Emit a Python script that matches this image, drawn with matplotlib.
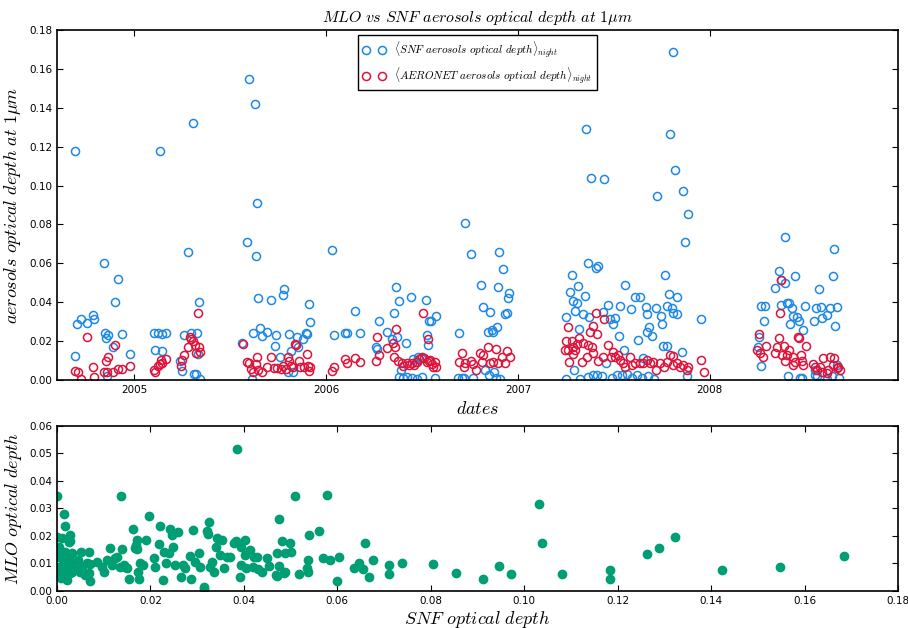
import datetime as dt

import matplotlib
matplotlib.use("Agg")
import matplotlib.pyplot as plt
import matplotlib.dates as mdates

# night means, dates as decimal years
snf_years = [
    2004.693, 2004.693, 2004.703, 2004.724, 2004.755, 2004.786, 2004.792, 2004.844, 2004.849, 2004.854,
    2004.865, 2004.859, 2004.891, 2004.901, 2004.917, 2004.938, 2004.979,
    2005.104, 2005.125, 2005.135, 2005.146, 2005.167, 2005.109, 2005.146, 2005.240, 2005.250, 2005.260,
    2005.281, 2005.297, 2005.307, 2005.328, 2005.339, 2005.313, 2005.323, 2005.341, 2005.333,
    2005.599, 2005.630, 2005.641, 2005.589, 2005.635, 2005.643, 2005.563, 2005.620, 2005.656, 2005.667,
    2005.693, 2005.714, 2005.740, 2005.734, 2005.760, 2005.776, 2005.781, 2005.615, 2005.807, 2005.828,
    2005.802, 2005.818, 2005.849, 2005.880, 2005.896, 2005.911, 2005.917, 2005.854, 2005.901,
    2006.031, 2006.042, 2006.099, 2006.109, 2006.151, 2006.177,
    2006.276, 2006.260, 2006.266, 2006.318, 2006.354, 2006.365, 2006.380, 2006.367, 2006.344, 2006.417,
    2006.443, 2006.521, 2006.536, 2006.547, 2006.573, 2006.526, 2006.531, 2006.391, 2006.382, 2006.401,
    2006.422, 2006.448, 2006.474, 2006.500, 2006.568, 2006.453, 2006.479, 2006.495, 2006.469,
    2006.724, 2006.755, 2006.901, 2006.922, 2006.807, 2006.896, 2006.953, 2006.948, 2006.818, 2006.854,
    2006.932, 2006.943, 2006.693, 2006.891, 2006.865, 2006.844, 2006.870, 2006.828, 2006.688, 2006.708,
    2006.719, 2006.766, 2006.846, 2006.872, 2006.885, 2006.906,
    2007.807, 2007.354, 2007.792, 2007.380, 2007.448, 2007.818, 2007.859, 2007.724, 2007.885, 2007.870,
    2007.365, 2007.406, 2007.417, 2007.281, 2007.271, 2007.313, 2007.286, 2007.307, 2007.297, 2007.339,
    2007.349, 2007.250, 2007.370, 2007.443, 2007.469, 2007.479, 2007.505, 2007.495, 2007.531, 2007.557,
    2007.589, 2007.609, 2007.635, 2007.667, 2007.672, 2007.719, 2007.745, 2007.750, 2007.766, 2007.786,
    2007.776, 2007.802, 2007.809, 2007.828, 2007.830, 2007.526, 2007.625, 2007.682, 2007.674, 2007.698,
    2007.755, 2007.778, 2007.552, 2007.854, 2007.318, 2007.953, 2007.292, 2007.458, 2007.651,
    2007.252, 2007.323, 2007.367, 2007.391, 2007.411, 2007.438, 2007.490, 2007.516, 2007.542, 2007.568,
    2007.594, 2007.620, 2007.646, 2007.677, 2007.708, 2007.880,
    2008.391, 2008.359, 2008.370, 2008.393, 2008.443, 2008.339, 2008.568, 2008.646, 2008.641, 2008.266,
    2008.286, 2008.372, 2008.401, 2008.411, 2008.427, 2008.495, 2008.552, 2008.578, 2008.661, 2008.625,
    2008.432, 2008.453, 2008.464, 2008.417, 2008.609, 2008.583, 2008.484, 2008.542, 2008.651, 2008.281,
    2008.255, 2008.250, 2008.268, 2008.406, 2008.547, 2008.663, 2008.469, 2008.479, 2008.549, 2008.557,
    2008.611, 2008.635, 2008.672,
]
snf_aod = [
    0.118, 0.0123, 0.0288, 0.0314, 0.0293, 0.0334, 0.0314, 0.060, 0.0242, 0.0216,
    0.0231, 0.002, 0.017, 0.040, 0.052, 0.0236, 0.0134,
    0.0242, 0.0242, 0.118, 0.0236, 0.024, 0.0154, 0.015, 0.0098, 0.0046, 0.023,
    0.066, 0.024, 0.132, 0.024, 0.040, 0.003, 0.003, 0.0003, 0.0134,
    0.155, 0.142, 0.091, 0.071, 0.0637, 0.042, 0.019, 0.024, 0.0267, 0.0226,
    0.0247, 0.041, 0.023, 0.0175, 0.0118, 0.0437, 0.0468, 0.0005, 0.0236, 0.004,
    0.004, 0.015, 0.022, 0.021, 0.024, 0.039, 0.030, 0.017, 0.0236,
    0.0668, 0.0231, 0.024, 0.024, 0.0355, 0.024,
    0.0303, 0.017, 0.016, 0.0247, 0.0344, 0.0478, 0.0406, 0.022, 0.021, 0.019,
    0.0427, 0.0411, 0.0303, 0.0303, 0.0329, 0.0231, 0.018, 0.005, 0.0015, 0.001,
    0.0015, 0.001, 0.0005, 0.0015, 0.001, 0.011, 0.0118, 0.0113, 0.009,
    0.0807, 0.0648, 0.0658, 0.057, 0.0488, 0.0478, 0.0447, 0.0422, 0.0375, 0.035,
    0.034, 0.0344, 0.024, 0.0272, 0.0257, 0.0247, 0.0247, 0.0051, 0.001, 0.001,
    0.0008, 0.001, 0.0025, 0.004, 0.001, 0.0005,
    0.1686, 0.129, 0.1264, 0.1038, 0.1033, 0.108, 0.097, 0.0946, 0.0853, 0.071,
    0.060, 0.0575, 0.0586, 0.054, 0.0452, 0.0483, 0.0406, 0.0396, 0.0355, 0.034,
    0.0432, 0.0324, 0.0324, 0.035, 0.0386, 0.0314, 0.0319, 0.0288, 0.038, 0.0488,
    0.0365, 0.0427, 0.0427, 0.0375, 0.034, 0.037, 0.0329, 0.0288, 0.054, 0.0442,
    0.038, 0.037, 0.0344, 0.034, 0.0427, 0.0226, 0.0206, 0.0272, 0.0247, 0.0226,
    0.0175, 0.0175, 0.0154, 0.0144, 0.0262, 0.0314, 0.0051, 0.0087, 0.0113,
    0.0005, 0.0005, 0.0015, 0.0025, 0.0025, 0.002, 0.001, 0.0025, 0.0025, 0.003,
    0.001, 0.0025, 0.001, 0.002, 0.0005, 0.002,
    0.0735, 0.056, 0.0514, 0.0498, 0.0535, 0.0473, 0.0468, 0.0673, 0.0535, 0.038,
    0.038, 0.0386, 0.0396, 0.0396, 0.037, 0.038, 0.037, 0.0375, 0.0375, 0.037,
    0.0329, 0.0324, 0.0303, 0.0288, 0.0334, 0.0319, 0.0257, 0.0303, 0.0278, 0.0303,
    0.0221, 0.017, 0.0072, 0.002, 0.0051, 0.0077, 0.001, 0.001, 0.0025, 0.002,
    0.0005, 0.002, 0.001,
]

aeronet_years = [
    2004.693, 2004.708, 2004.724, 2004.755, 2004.786, 2004.792, 2004.844, 2004.859, 2004.854, 2004.865,
    2004.901, 2004.891, 2004.917, 2004.938, 2004.979,
    2005.104, 2005.109, 2005.125, 2005.135, 2005.141, 2005.146, 2005.167, 2005.245, 2005.250, 2005.260,
    2005.281, 2005.292, 2005.297, 2005.307, 2005.318, 2005.323, 2005.333, 2005.339, 2005.341,
    2005.568, 2005.589, 2005.599, 2005.609, 2005.620, 2005.641, 2005.635, 2005.643, 2005.667, 2005.693,
    2005.714, 2005.729, 2005.745, 2005.766, 2005.776, 2005.792, 2005.802, 2005.807, 2005.818, 2005.839,
    2005.844, 2005.828, 2005.859, 2005.865, 2005.885, 2005.901, 2005.906, 2005.917, 2005.911,
    2006.031, 2006.042, 2006.099, 2006.109, 2006.151, 2006.177,
    2006.266, 2006.276, 2006.260, 2006.318, 2006.349, 2006.365, 2006.359, 2006.351, 2006.375, 2006.396,
    2006.401, 2006.422, 2006.432, 2006.448, 2006.458, 2006.474, 2006.484, 2006.500, 2006.510, 2006.526,
    2006.536, 2006.552, 2006.557, 2006.505, 2006.528, 2006.542, 2006.568, 2006.573,
    2006.708, 2006.693, 2006.724, 2006.719, 2006.755, 2006.766, 2006.781, 2006.802, 2006.818, 2006.813,
    2006.844, 2006.854, 2006.870, 2006.885, 2006.896, 2006.917, 2006.932, 2006.943, 2006.958,
    2007.406, 2007.448, 2007.260, 2007.391, 2007.375, 2007.411, 2007.250, 2007.281, 2007.318, 2007.307,
    2007.262, 2007.245, 2007.286, 2007.339, 2007.365, 2007.385, 2007.288, 2007.297, 2007.266, 2007.333,
    2007.359, 2007.393, 2007.417, 2007.443, 2007.469, 2007.484, 2007.495, 2007.505, 2007.521, 2007.531,
    2007.547, 2007.557, 2007.583, 2007.594, 2007.609, 2007.635, 2007.651, 2007.672, 2007.688, 2007.703,
    2007.719, 2007.740, 2007.760, 2007.776, 2007.792, 2007.807, 2007.809, 2007.828, 2007.844, 2007.859,
    2007.880, 2007.885, 2007.953, 2007.969,
    2008.370, 2008.365, 2008.255, 2008.458, 2008.464, 2008.359, 2008.245, 2008.292, 2008.260, 2008.276,
    2008.339, 2008.349, 2008.385, 2008.411, 2008.375, 2008.401, 2008.432, 2008.391, 2008.443, 2008.474,
    2008.500, 2008.479, 2008.434, 2008.484, 2008.536, 2008.547, 2008.557, 2008.573, 2008.589, 2008.583,
    2008.609, 2008.615, 2008.625, 2008.646, 2008.641, 2008.661, 2008.677, 2008.667,
]
aeronet_aod = [
    0.0046, 0.004, 0.0005, 0.022, 0.0067, 0.0015, 0.004, 0.004, 0.0098, 0.0118,
    0.018, 0.004, 0.0057, 0.0057, 0.0072,
    0.0051, 0.004, 0.0072, 0.0082, 0.0103, 0.0087, 0.0108, 0.0072, 0.0103, 0.0128,
    0.017, 0.022, 0.021, 0.020, 0.018, 0.0139, 0.0344, 0.017, 0.0144,
    0.0185, 0.0093, 0.0087, 0.0057, 0.004, 0.0118, 0.0082, 0.0051, 0.004, 0.0067,
    0.0118, 0.0062, 0.0062, 0.0057, 0.0072, 0.0057, 0.0118, 0.0098, 0.0072, 0.0185,
    0.018, 0.0067, 0.0098, 0.0067, 0.0067, 0.0134, 0.0072, 0.0067, 0.0046,
    0.0046, 0.0067, 0.0108, 0.0087, 0.0113, 0.0093,
    0.022, 0.0128, 0.0098, 0.0164, 0.019, 0.026, 0.017, 0.0118, 0.0098, 0.0087,
    0.0072, 0.0087, 0.0077, 0.0087, 0.0077, 0.0093, 0.0108, 0.0118, 0.0113, 0.0093,
    0.0098, 0.0082, 0.0067, 0.0344, 0.021, 0.0103, 0.0093, 0.0067,
    0.0139, 0.0093, 0.0087, 0.0067, 0.0098, 0.0082, 0.0051, 0.0139, 0.0128, 0.0093,
    0.017, 0.0087, 0.0093, 0.016, 0.0087, 0.0118, 0.0087, 0.015, 0.0118,
    0.0344, 0.0314, 0.0272, 0.0278, 0.0247, 0.0236, 0.020, 0.020, 0.0216, 0.0185,
    0.0154, 0.0154, 0.017, 0.019, 0.018, 0.017, 0.0134, 0.0154, 0.0093, 0.0093,
    0.0118, 0.0139, 0.0098, 0.0118, 0.018, 0.0118, 0.0144, 0.0118, 0.0128, 0.0103,
    0.0087, 0.0067, 0.0118, 0.0077, 0.0087, 0.0087, 0.0087, 0.0103, 0.0087, 0.0093,
    0.0051, 0.0087, 0.0067, 0.0093, 0.0128, 0.0123, 0.0077, 0.0087, 0.0067, 0.0077,
    0.0051, 0.0067, 0.0103, 0.004,
    0.0514, 0.0344, 0.0236, 0.0221, 0.0216, 0.0216, 0.0154, 0.0175, 0.0139, 0.0118,
    0.0139, 0.017, 0.0175, 0.0154, 0.0128, 0.0128, 0.0118, 0.0098, 0.0093, 0.0128,
    0.0175, 0.0098, 0.0077, 0.0077, 0.0082, 0.0067, 0.0051, 0.0067, 0.0113, 0.004,
    0.0036, 0.0051, 0.0118, 0.0113, 0.0077, 0.0062, 0.0051, 0.0067,
]

# matched nights: SNF vs MLO
snf_matched = [
    0.0385, 0.0, 0.0137, 0.0509, 0.0578, 0.0015, 0.0197, 0.0325, 0.0475, 0.0017,
    0.022, 0.0163, 0.0242, 0.0259, 0.0291, 0.0321, 0.0323, 0.056, 0.054, 0.0028,
    0.001, 0.0028, 0.0171, 0.019, 0.0218, 0.0342, 0.0353, 0.0383, 0.0402, 0.0482,
    0.0499, 0.0659, 0.0169, 0.0171, 0.0113, 0.0139, 0.0248, 0.034, 0.0394, 0.0471,
    0.0488, 0.05, 0.0051, 0.0068, 0.057, 0.0584, 0.0603, 0.0537, 0.0676, 0.0646,
    0.0636, 0.0655, 0.0668, 0.071, 0.071, 0.0738, 0.0805, 0.0854, 0.06, 0.0518,
    0.0535, 0.0537, 0.0488, 0.0475, 0.0469, 0.0471, 0.0315, 0.0315, 0.0911, 0.0946,
    0.0972, 0.1032, 0.1038, 0.1081, 0.1184, 0.1184, 0.1263, 0.1289, 0.1323, 0.1423,
    0.1548, 0.1684,
    0.0, 0.0026, 0.0004, 0.0006, 0.0017, 0.0, 0.0013, 0.0021, 0.0006, 0.0015,
    0.0026, 0.0004, 0.0015, 0.0028, 0.0021, 0.0009, 0.0032, 0.003, 0.0034, 0.0032,
    0.0045, 0.0054, 0.0049, 0.0064, 0.007, 0.0068, 0.007, 0.006, 0.0086, 0.0096,
    0.0101, 0.0107, 0.0118, 0.0124, 0.0128, 0.0135, 0.0143, 0.0146, 0.015, 0.0154,
    0.0167, 0.0173, 0.0175, 0.0178, 0.0184, 0.0208, 0.021, 0.0227, 0.0229, 0.0233,
    0.024, 0.0246, 0.0252, 0.0265, 0.0269, 0.0274, 0.0285, 0.0287, 0.0295, 0.0304,
    0.0306, 0.0327, 0.0332, 0.0336, 0.0349, 0.0357, 0.0364, 0.037, 0.0379, 0.0392,
    0.0394, 0.0402, 0.0405, 0.0413, 0.0421, 0.0428, 0.043, 0.0439, 0.0449, 0.0454,
    0.042, 0.0486,
]
mlo_matched = [
    0.0516, 0.0345, 0.0345, 0.0345, 0.0349, 0.028, 0.0273, 0.0251, 0.0262, 0.0237,
    0.0237, 0.0225, 0.0225, 0.0215, 0.0222, 0.0218, 0.0207, 0.0218, 0.0204, 0.0204,
    0.0193, 0.0182, 0.0186, 0.0186, 0.0171, 0.0193, 0.0186, 0.0182, 0.0186, 0.0182,
    0.0175, 0.0175, 0.0167, 0.0153, 0.0157, 0.0153, 0.016, 0.016, 0.016, 0.0138,
    0.0138, 0.0142, 0.0142, 0.0142, 0.012, 0.0113, 0.0124, 0.0113, 0.0113, 0.0102,
    0.0084, 0.008, 0.0051, 0.0095, 0.0062, 0.0102, 0.0098, 0.0066, 0.0036, 0.0062,
    0.0084, 0.0069, 0.0069, 0.0091, 0.0058, 0.0055, 0.0015, 0.0007, 0.0044, 0.0091,
    0.0062, 0.0316, 0.0175, 0.0062, 0.0076, 0.0044, 0.0135, 0.0157, 0.0196, 0.0076,
    0.0087, 0.0127,
    0.0197, 0.0178, 0.016, 0.0138, 0.0142, 0.0124, 0.0113, 0.012, 0.0087, 0.0087,
    0.0084, 0.0066, 0.0058, 0.0066, 0.004, 0.0047, 0.0138, 0.0106, 0.0087, 0.0069,
    0.0113, 0.0087, 0.0069, 0.0102, 0.0098, 0.0066, 0.0036, 0.0058, 0.0106, 0.0087,
    0.0069, 0.0113, 0.0095, 0.012, 0.0124, 0.0087, 0.0095, 0.0087, 0.0084, 0.0044,
    0.0157, 0.0069, 0.0044, 0.0102, 0.0095, 0.012, 0.0087, 0.004, 0.0142, 0.0102,
    0.0138, 0.0204, 0.0095, 0.0051, 0.0095, 0.0084, 0.0127, 0.0044, 0.0106, 0.0138,
    0.0087, 0.0087, 0.0106, 0.0069, 0.0131, 0.0084, 0.0124, 0.0124, 0.0175, 0.0051,
    0.0095, 0.0131, 0.0084, 0.0149, 0.0124, 0.0124, 0.008, 0.0069, 0.012, 0.0091,
    0.0087, 0.0066,
]


def to_dates(years):
    return [dt.datetime(int(y), 1, 1) + dt.timedelta(days=(y - int(y)) * 365.25) for y in years]


params = {
    "mathtext.fontset": "cm",
    "xtick.direction": "in",
    "ytick.direction": "in",
    "xtick.top": True,
    "ytick.right": True,
    "xtick.major.size": 4,
    "ytick.major.size": 4,
    "xtick.labelsize": 7.5,
    "ytick.labelsize": 7.5,
    "axes.linewidth": 1.2,
}
plt.rcParams.update(params)

fig = plt.figure(figsize=(9.08, 6.28), dpi=100)

# top: time series
ax1 = fig.add_axes([0.0628, 0.395, 0.9262, 0.557])
ax1.plot(to_dates(snf_years), snf_aod, "o", mfc="none", mec="#1E88E5", mew=1.1, ms=5.8,
         label=r"$\langle SNF\ aerosols\ optical\ depth\rangle_{night}$")
ax1.plot(to_dates(aeronet_years), aeronet_aod, "o", mfc="none", mec="#DC143C", mew=1.1, ms=5.8,
         label=r"$\langle AERONET\ aerosols\ optical\ depth\rangle_{night}$")
ax1.set_xlim(dt.datetime(2004, 8, 7), dt.datetime(2008, 12, 24))
ax1.set_ylim(0, 0.18)
ax1.set_yticks([0.00, 0.02, 0.04, 0.06, 0.08, 0.10, 0.12, 0.14, 0.16, 0.18])
ax1.xaxis.set_major_locator(mdates.YearLocator())
ax1.xaxis.set_major_formatter(mdates.DateFormatter("%Y"))
ax1.set_title(r"$MLO\ vs\ SNF\ aerosols\ optical\ depth\ at\ 1\mu m$", fontsize=11.5)
ax1.set_xlabel(r"$dates$", fontsize=13)
ax1.set_ylabel(r"$aerosols\ optical\ depth\ at\ 1\mu m$", fontsize=13)
ax1.legend(loc="upper center", numpoints=2, fontsize=8, fancybox=False,
           edgecolor="black", framealpha=1, borderaxespad=0.4)

# bottom: scatter SNF vs MLO
ax2 = fig.add_axes([0.0628, 0.059, 0.9262, 0.263])
ax2.plot(snf_matched, mlo_matched, "o", color="#009E73", mec="#009E73", ms=6)
ax2.set_xlim(0, 0.18)
ax2.set_ylim(0, 0.06)
ax2.set_xticks([0.00, 0.02, 0.04, 0.06, 0.08, 0.10, 0.12, 0.14, 0.16, 0.18])
ax2.set_yticks([0.00, 0.01, 0.02, 0.03, 0.04, 0.05, 0.06])
ax2.set_xlabel(r"$SNF\ optical\ depth$", fontsize=13, labelpad=2)
ax2.set_ylabel(r"$MLO\ optical\ depth$", fontsize=13)

plt.savefig("out.png", dpi=100)
